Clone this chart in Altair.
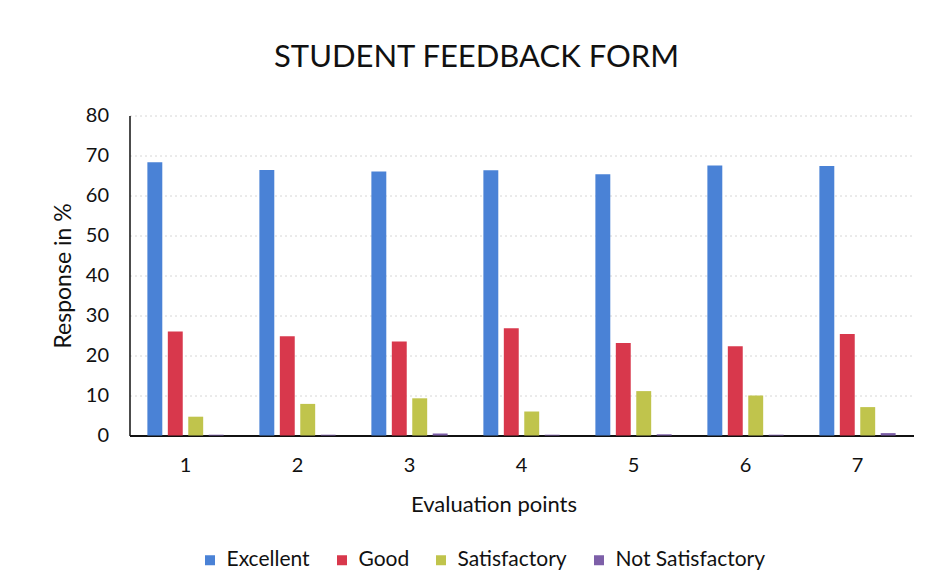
import altair as alt
import pandas as pd

points = ["1", "2", "3", "4", "5", "6", "7"]
categories = ["Excellent", "Good", "Satisfactory", "Not Satisfactory"]
excellent = [68.3, 66.4, 66.0, 66.3, 65.3, 67.5, 67.4]
good = [26.0, 24.8, 23.5, 26.8, 23.1, 22.3, 25.4]
satisfactory = [4.7, 7.9, 9.3, 6.0, 11.1, 10.0, 7.1]
not_satisfactory = [0.2, 0.2, 0.5, 0.2, 0.3, 0.2, 0.6]
colors = ["#4a82d6", "#d8384c", "#c0c44c", "#7d5fa8"]

series = [excellent, good, satisfactory, not_satisfactory]
rows = []
for cat, vals in zip(categories, series):
    for p, v in zip(points, vals):
        rows.append({"point": p, "category": cat, "value": v})
df = pd.DataFrame(rows)

FONT = "Lato"

chart = alt.Chart(df).mark_bar().encode(
    x=alt.X("point:N", sort=points,
            scale=alt.Scale(paddingInner=0.27, paddingOuter=0.135),
            axis=alt.Axis(title="Evaluation points", labelAngle=0, ticks=False, tickSize=0,
                          labelPadding=20, labelFontSize=20, labelColor="#111",
                          titleFontSize=22, titleFontWeight="normal", titleColor="#111",
                          titleX=364, titleY=76, titleBaseline="alphabetic",
                          domainColor="#111", domainWidth=2)),
    xOffset=alt.XOffset("category:N", sort=categories,
                        scale=alt.Scale(paddingInner=0.27, paddingOuter=0.135)),
    y=alt.Y("value:Q", scale=alt.Scale(domain=[0, 80]),
            axis=alt.Axis(title="Response in %", values=[0, 10, 20, 30, 40, 50, 60, 70, 80],
                          ticks=False, tickSize=0, labelPadding=21, labelFontSize=20,
                          labelColor="#111", titleFontSize=23, titleFontWeight="normal",
                          titleColor="#111", titlePadding=10,
                          domainColor="#111", domainWidth=1.5,
                          gridColor="#d6d6d6", gridDash=[2, 3])),
    color=alt.Color("category:N", sort=categories,
                    scale=alt.Scale(domain=categories, range=colors),
                    legend=alt.Legend(title=None, orient="none", direction="horizontal",
                                      legendX=70, legendY=434, symbolType="square",
                                      symbolSize=100, symbolStrokeWidth=0, labelFontSize=21,
                                      labelColor="#111", columnPadding=21, labelOffset=6)),
).properties(
    width=784,
    height=320,
    title=alt.TitleParams("STUDENT FEEDBACK FORM", fontSize=31, fontWeight="normal",
                          color="#111", anchor="middle", frame="group", dx=-45, offset=32),
    autosize=alt.AutoSizeParams(type="none"),
    padding={"left": 121.5, "top": 107.5, "right": 10, "bottom": 140},
).configure(font=FONT).configure_view(stroke=None)

chart.save("out.html", embed_options={"renderer": "svg", "actions": False})
